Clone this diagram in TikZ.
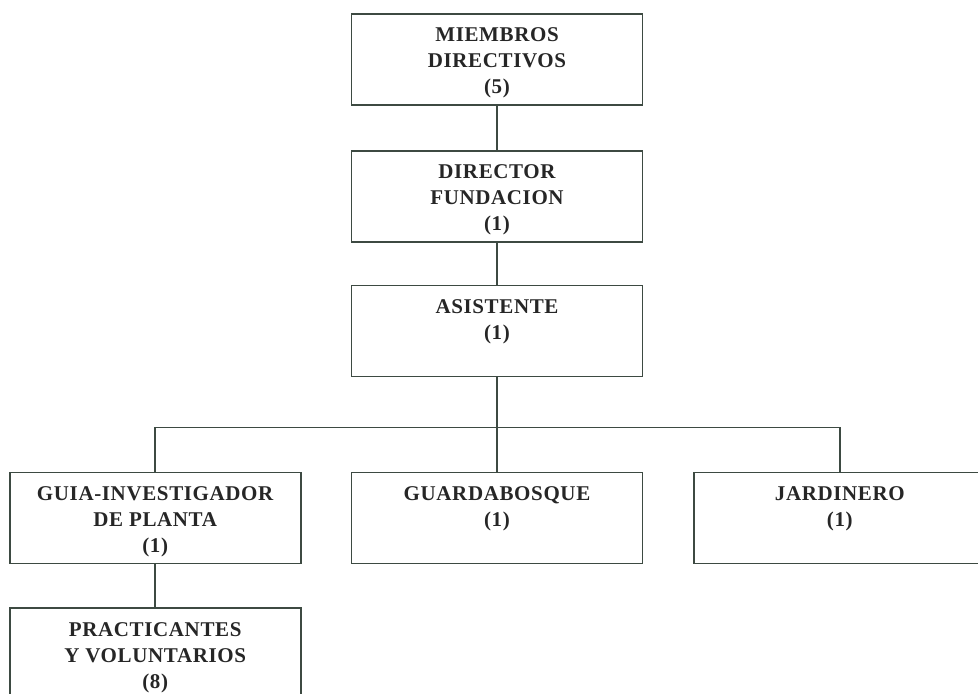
\documentclass[tikz,border=0pt]{standalone}
\usepackage{fontspec}
\setmainfont{Liberation Serif}
\usetikzlibrary{positioning}
\definecolor{linea}{rgb}{0.24,0.29,0.26}
\newcommand{\cargotext}[1]{\parbox[c][45.5pt][t]{145pt}{\vspace*{7pt}\centering\fontsize{10.5}{13}\selectfont\addfontfeatures{LetterSpace=3}\bfseries #1\par}}

\begin{document}
\begin{tikzpicture}[x=0.5pt,y=-0.5pt]
        \tikzstyle{cargo}=[draw=linea,line width=0.9pt,rectangle,minimum width=145.5pt,minimum height=45.5pt,inner sep=0pt,text=black!85]
        \useasboundingbox (0,0) rectangle (978,694);
        \clip (0,0) rectangle (978,694);

        \node[cargo] (miembros) at (497,59.5) {\cargotext{MIEMBROS\\DIRECTIVOS\\(5)}};
        \node[cargo] (director) [below=22pt of miembros] {\cargotext{DIRECTOR\\FUNDACION\\(1)}}
            edge[draw=linea,line width=0.9pt] (miembros);
        \node[cargo] (asistente) [below=21pt of director] {\cargotext{ASISTENTE\\(1)}}
            edge[draw=linea,line width=0.9pt] (director);

        \node[cargo] (guardabosque) [below=47pt of asistente] {\cargotext{GUARDABOSQUE\\(1)}}
            edge[draw=linea,line width=0.9pt] (asistente);
        \node[cargo] (guia) [left=24.5pt of guardabosque] {\cargotext{GUIA-INVESTIGADOR\\DE PLANTA\\(1)}};
        \node[cargo] (jardinero) [right=25pt of guardabosque] {\cargotext{JARDINERO\\(1)}};
        \node[cargo] (practicantes) [below=21.5pt of guia] {\cargotext{PRACTICANTES\\Y VOLUNTARIOS\\(8)}}
            edge[draw=linea,line width=0.9pt] (guia);

        \coordinate (bus) at ([yshift=-25pt]asistente.south);
        \draw[linea,line width=0.9pt] (guia.north) |- (bus) -| (jardinero.north);
    \end{tikzpicture}
\end{document}
